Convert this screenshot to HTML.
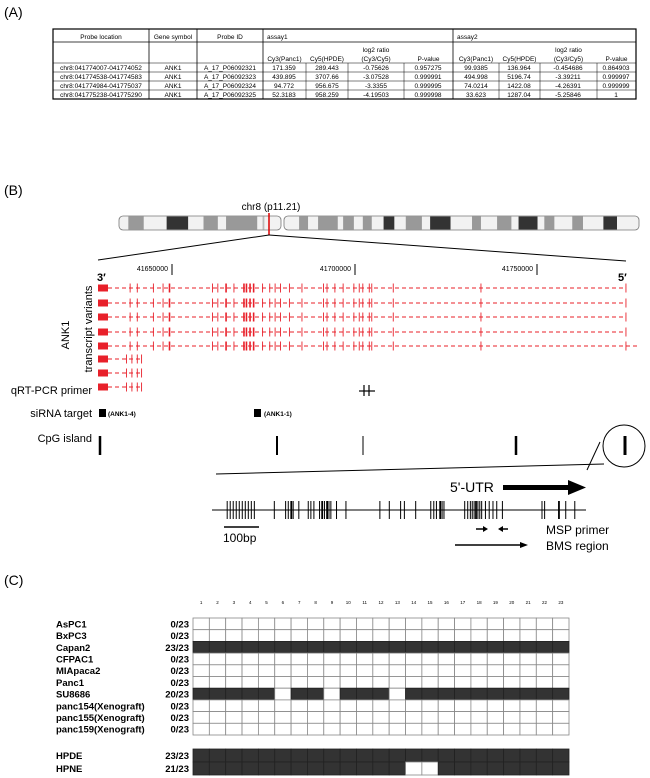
<!DOCTYPE html>
<html><head><meta charset="utf-8"><style>
body{margin:0;background:#fff;}
svg{display:block;font-family:"Liberation Sans",sans-serif;}
</style></head><body>
<svg id="s" width="650" height="778" xmlns="http://www.w3.org/2000/svg">
<text x="4" y="17" font-size="14">(A)</text>
<text x="4" y="195" font-size="14">(B)</text>
<text x="4" y="585" font-size="14">(C)</text>
<g id="tbl" font-size="6.5" text-anchor="middle" fill="#000"></g>
<g id="chr"></g>
<g id="tr"></g>
<g id="rest"></g>
<g id="grid"></g>
</svg>
<script>
const NS="http://www.w3.org/2000/svg";
function el(p,t,a,txt){const e=document.createElementNS(NS,t);for(const k in a)e.setAttribute(k,a[k]);if(txt!==undefined)e.textContent=txt;document.getElementById(p).appendChild(e);return e;}
const T='tbl';
el(T,'rect',{x:53,y:29,width:583,height:70,fill:'none',stroke:'#000','stroke-width':1.2});
[149,197,263,453].forEach(x=>el(T,'line',{x1:x,y1:29,x2:x,y2:99,stroke:'#000','stroke-width':0.8}));
[306,348,404,499,540,597].forEach(x=>el(T,'line',{x1:x,y1:63,x2:x,y2:99,stroke:'#000','stroke-width':0.5}));
el(T,'line',{x1:53,y1:42,x2:636,y2:42,stroke:'#000','stroke-width':0.8});
[63,72,81,90].forEach(y=>el(T,'line',{x1:53,y1:y,x2:636,y2:y,stroke:'#000','stroke-width':0.5}));
el(T,'text',{x:101,y:39},'Probe location');el(T,'text',{x:173,y:39},'Gene symbol');el(T,'text',{x:230,y:39},'Probe ID');
el(T,'text',{x:267,y:39,'text-anchor':'start'},'assay1');el(T,'text',{x:457,y:39,'text-anchor':'start'},'assay2');
[[263,306,348,404,453],[453,499,540,597,636]].forEach(c=>{
 el(T,'text',{x:(c[2]+c[3])/2,y:52},'log2 ratio');
 ['Cy3(Panc1)','Cy5(HPDE)','(Cy3/Cy5)','P-value'].forEach((t,i)=>el(T,'text',{x:(c[i]+c[i+1])/2,y:61},t));
});
const rows=[['chr8:041774007-041774052','A_17_P06092321','171.359','289.443','-0.75626','0.957275','99.9385','136.964','-0.454686','0.864903'],
['chr8:041774538-041774583','A_17_P06092323','439.895','3707.66','-3.07528','0.999991','494.998','5196.74','-3.39211','0.999997'],
['chr8:041774984-041775037','A_17_P06092324','94.772','956.675','-3.3355','0.999995','74.0214','1422.08','-4.26391','0.999999'],
['chr8:041775238-041775290','A_17_P06092325','52.3183','958.259','-4.19503','0.999998','33.623','1287.04','-5.25846','1']];
const cx=[101,173,230,284,327,376,428,476,519,568,616];
rows.forEach((r,i)=>{const y=70+i*9;
 el(T,'text',{x:cx[0],y:y},r[0]);el(T,'text',{x:cx[1],y:y},'ANK1');el(T,'text',{x:cx[2],y:y},r[1]);
 for(let k=2;k<10;k++)el(T,'text',{x:cx[k+1],y:y},r[k]);});
const C='chr',f=z=>80+z*0.358;
el(C,'rect',{x:119,y:216,width:162,height:14,rx:4,fill:'#f2f2f2',stroke:'#777','stroke-width':0.8});
el(C,'rect',{x:284,y:216,width:355,height:14,rx:4,fill:'#f2f2f2',stroke:'#777','stroke-width':0.8});
const bands=[[135,178,'#999'],[242,302,'#333'],[345,385,'#999'],[408,495,'#999'],[510,515,'#bbb'],[612,637,'#999'],[665,720,'#999'],[735,765,'#999'],[790,815,'#999'],[848,878,'#333'],[910,955,'#999'],[978,1035,'#333'],[1095,1120,'#999'],[1165,1205,'#999'],[1225,1278,'#333'],[1297,1325,'#999'],[1375,1405,'#999'],[1462,1500,'#333']];
bands.forEach(b=>el(C,'rect',{x:f(b[0]),y:216.5,width:(b[1]-b[0])*0.358,height:13,fill:b[2]}));
el(C,'line',{x1:269,y1:213,x2:269,y2:235,stroke:'#d00','stroke-width':1.5});
el(C,'text',{x:271,y:210,'font-size':10,'text-anchor':'middle'},'chr8 (p11.21)');
el(C,'line',{x1:269,y1:235,x2:98,y2:260,stroke:'#000','stroke-width':1});
el(C,'line',{x1:269,y1:235,x2:626,y2:261,stroke:'#000','stroke-width':1});
[[172,'41650000'],[355,'41700000'],[537,'41750000']].forEach(t=>{el(C,'line',{x1:t[0],y1:264,x2:t[0],y2:275,stroke:'#000'});el(C,'text',{x:t[0]-4,y:271,'font-size':7,'text-anchor':'end'},t[1]);});
el(C,'text',{x:97,y:281,'font-size':11,'font-weight':'bold'},'3′');
el(C,'text',{x:618,y:281,'font-size':11,'font-weight':'bold'},'5′');
const R='tr',red='#e8202a';
const ex=[140,160,205,232,250,370,385,408,430,458,465,475,485,510,530,545,560,585,620,680,690,712,735,765,780,790,808,815,875,1120,1525];
const ys=[288,303,317,332,346,359,373,387];
ys.forEach((y,i)=>{
 const end=i<4?626:(i==4?640:143);
 el(R,'rect',{x:98,y:y-3.5,width:10,height:7,fill:red});
 el(R,'line',{x1:108,y1:y,x2:end,y2:y,stroke:red,'stroke-width':1,'stroke-dasharray':'4,3'});
 const xs=i<5?ex:[130,145,160,172];
 xs.forEach((z,j)=>{const x=f(z);const w=(i<5&&(z==250||(z>=458&&z<=485)||z==408))?1.6:0.9;
  el(R,'line',{x1:x,y1:y-4.5,x2:x,y2:y+4.5,stroke:red,'stroke-width':w});});
});
el(R,'text',{x:0,y:0,'font-size':11,'text-anchor':'middle',transform:'translate(69,335) rotate(-90)'},'ANK1');
el(R,'text',{x:0,y:0,'font-size':11,'text-anchor':'middle',transform:'translate(92,329) rotate(-90)'},'transcript variants');
const Q='rest';
el(Q,'text',{x:92,y:394,'font-size':11,'text-anchor':'end'},'qRT-PCR primer');
el(Q,'text',{x:92,y:417,'font-size':11,'text-anchor':'end'},'siRNA target');
el(Q,'text',{x:92,y:442,'font-size':11,'text-anchor':'end'},'CpG island');
el(Q,'line',{x1:359,y1:391,x2:375,y2:391,stroke:'#000','stroke-width':1.2});
el(Q,'line',{x1:364,y1:385,x2:364,y2:396,stroke:'#000','stroke-width':1.2});
el(Q,'line',{x1:369,y1:385,x2:369,y2:396,stroke:'#000','stroke-width':1.2});
el(Q,'rect',{x:99,y:409,width:7,height:8,fill:'#000'});
el(Q,'text',{x:108,y:416,'font-size':6.5,'font-weight':'bold'},'(ANK1-4)');
el(Q,'rect',{x:254,y:409,width:7,height:8,fill:'#000'});
el(Q,'text',{x:264,y:416,'font-size':6.5,'font-weight':'bold'},'(ANK1-1)');
[[100,2.5],[277,2],[363,1],[516,2.5],[625,3]].forEach(b=>el(Q,'rect',{x:b[0]-b[1]/2,y:436,width:b[1],height:19,fill:'#000'}));
el(Q,'circle',{cx:624,cy:446,r:21,fill:'none',stroke:'#000','stroke-width':1});
el(Q,'line',{x1:216,y1:474,x2:604,y2:464,stroke:'#000','stroke-width':1});
el(Q,'line',{x1:600,y1:442,x2:587,y2:470,stroke:'#000','stroke-width':1});
el(Q,'text',{x:450,y:492,'font-size':14},"5'-UTR");
el(Q,'rect',{x:503,y:485,width:66,height:5,fill:'#000'});
el(Q,'polygon',{points:'568,480 586,487.5 568,495',fill:'#000'});
el(Q,'line',{x1:212,y1:510,x2:586,y2:510,stroke:'#000','stroke-width':1});
const g=x=>50+x*0.377;
const cpg=[470,478,486,494,502,510,518,526,534,542,595,625,632,640,645,660,685,692,700,715,722,728,735,740,745,760,785,875,900,930,940,970,1010,1018,1025,1035,1040,1045,1100,1108,1115,1120,1125,1130,1135,1140,1145,1155,1165,1175,1185,1200,1305,1312,1350,1368,1392];
cpg.forEach(z=>el(Q,'line',{x1:g(z),y1:501,x2:g(z),y2:519,stroke:'#000','stroke-width':(z==640||z==722||z==735||z==1035||z==1130||z==1350)?1.8:1}));
el(Q,'line',{x1:224,y1:527,x2:259,y2:527,stroke:'#000','stroke-width':1.5});
el(Q,'text',{x:223,y:542,'font-size':12},'100bp');
el(Q,'line',{x1:476,y1:529,x2:484,y2:529,stroke:'#000','stroke-width':1.5});
el(Q,'polygon',{points:'483,526 488,529 483,532',fill:'#000'});
el(Q,'line',{x1:502,y1:529,x2:508,y2:529,stroke:'#000','stroke-width':1.5});
el(Q,'polygon',{points:'503,526 498,529 503,532',fill:'#000'});
el(Q,'line',{x1:455,y1:545,x2:522,y2:545,stroke:'#000','stroke-width':1.5});
el(Q,'polygon',{points:'520,542 528,545 520,548',fill:'#000'});
el(Q,'text',{x:546,y:534,'font-size':12},'MSP primer');
el(Q,'text',{x:546,y:550,'font-size':12},'BMS region');
const G='grid',gx=193,cw=(569-193)/23;
for(let i=1;i<=23;i++)el(G,'text',{x:gx+(i-0.5)*cw,y:604,'font-size':4.5,'text-anchor':'middle'},i);
const gr=[['AsPC1','0/23',[]],['BxPC3','0/23',[]],['Capan2','23/23','all'],['CFPAC1','0/23',[]],['MIApaca2','0/23',[]],['Panc1','0/23',[]],['SU8686','20/23',[6,9,13]],['panc154(Xenograft)','0/23',[]],['panc155(Xenograft)','0/23',[]],['panc159(Xenograft)','0/23',[]]];
function drawRow(r,y,h){
 el(G,'text',{x:56,y:y+h/2+3.5,'font-size':9.5,'font-weight':'bold'},r[0]);
 el(G,'text',{x:189,y:y+h/2+3.5,'font-size':9.5,'font-weight':'bold','text-anchor':'end'},r[1]);
 for(let c=1;c<=23;c++){let filled=r[2]==='all'||(r[2].length&&!r[2].includes(c));
  el(G,'rect',{x:gx+(c-1)*cw,y:y,width:cw,height:h,fill:filled?'#333':'#fff',stroke:filled?'#222':'#888','stroke-width':0.8});}
}
gr.forEach((r,i)=>drawRow(r,618+i*11.7,11.7));
drawRow(['HPDE','23/23','all'],749,13);
drawRow(['HPNE','21/23',[14,15]],762,13);
</script>
</body></html>
